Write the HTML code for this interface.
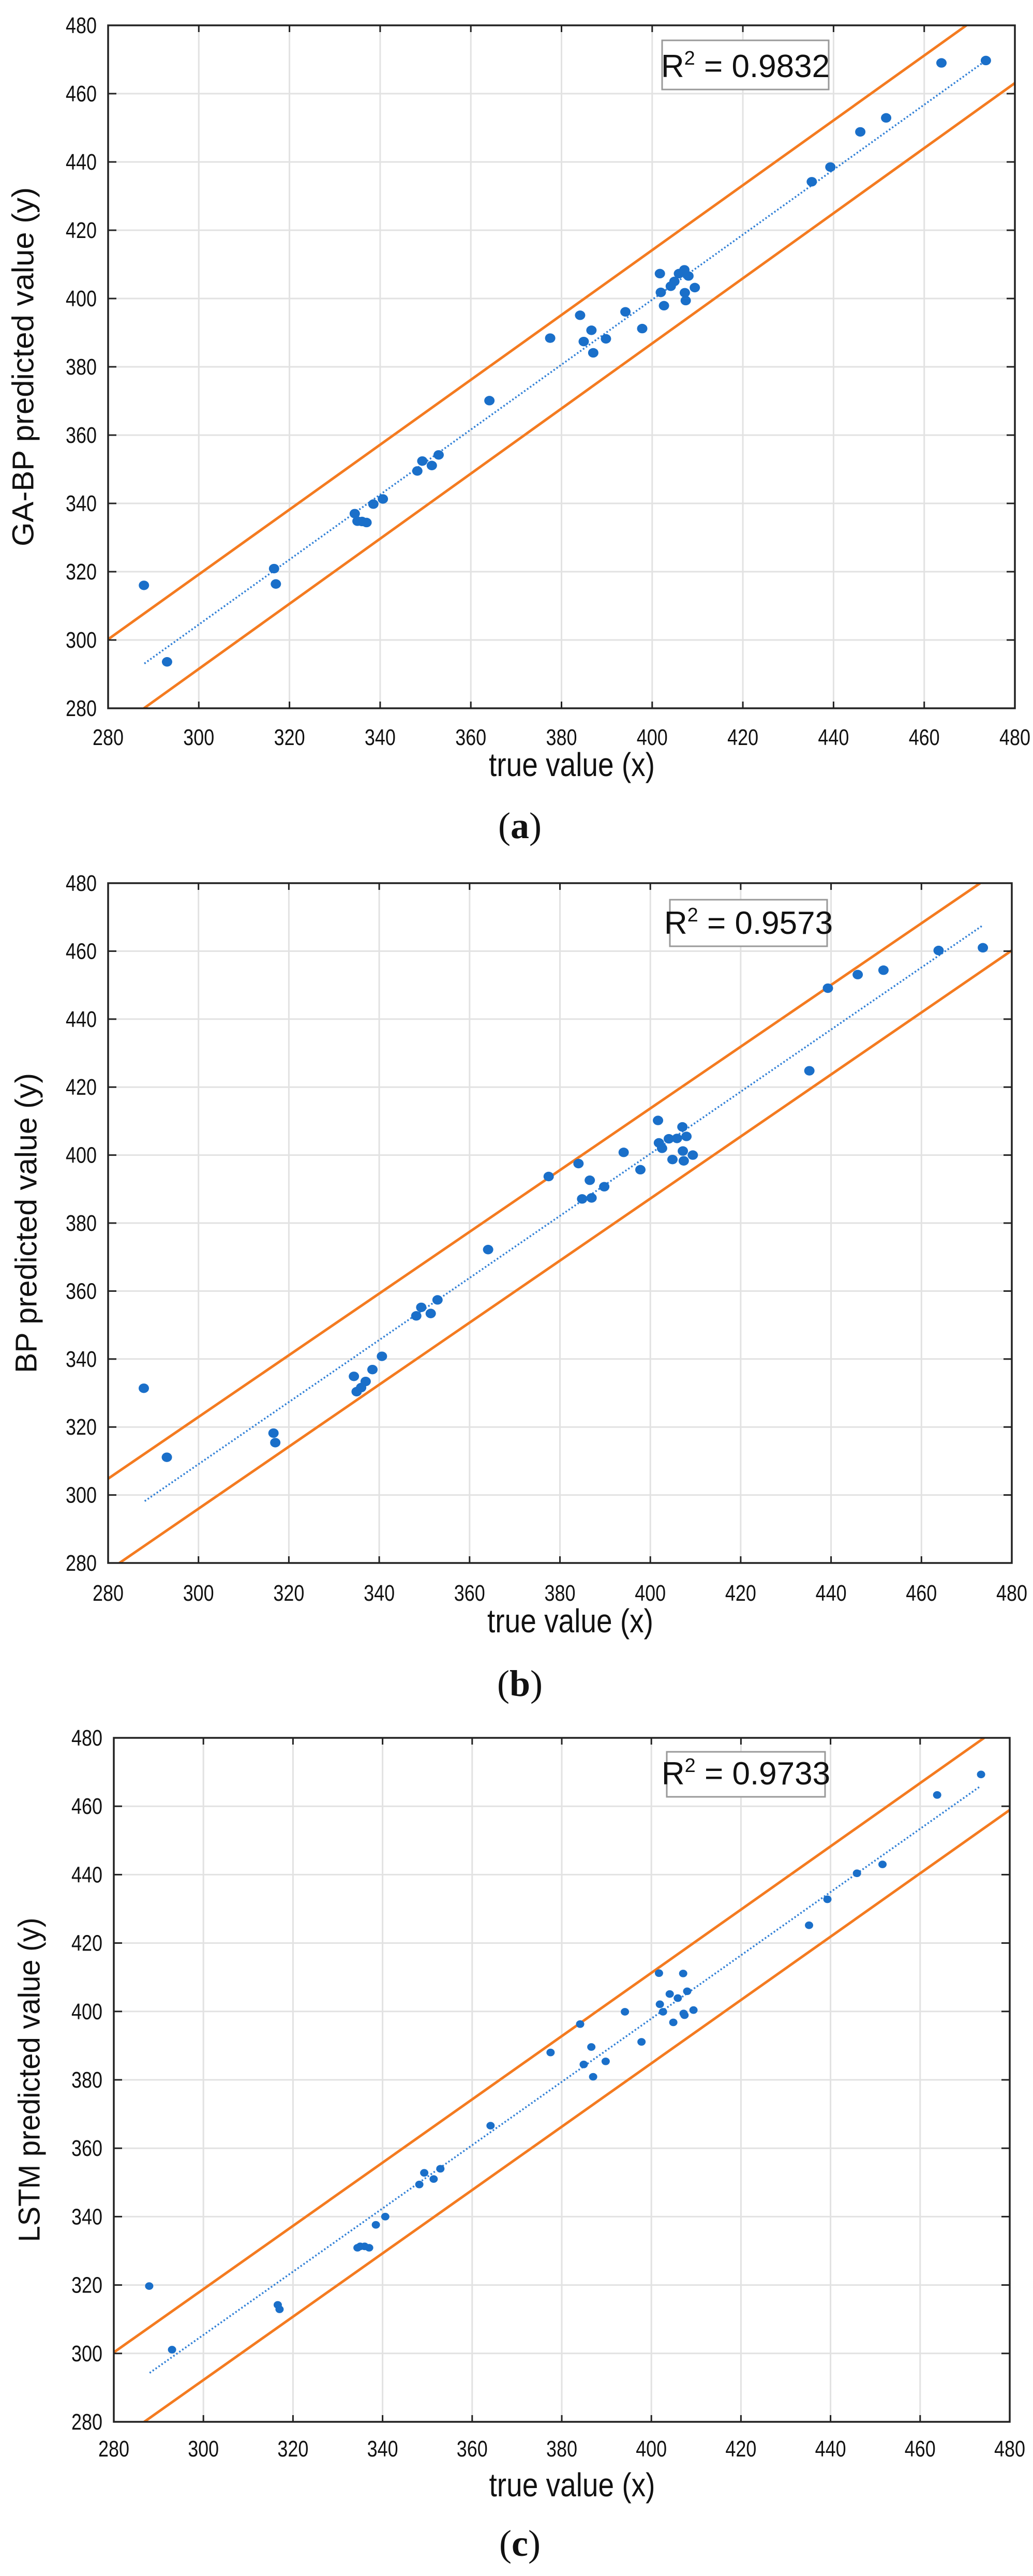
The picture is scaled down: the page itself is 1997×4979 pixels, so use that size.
<!DOCTYPE html>
<html><head><meta charset="utf-8"><style>
html,body{margin:0;padding:0;background:#fff}
svg{display:block}
.tick{font-family:"Liberation Sans Narrow","Liberation Sans",sans-serif;font-size:44px;fill:#111}
.ttl{font-family:"Liberation Sans Narrow","Liberation Sans",sans-serif;font-size:64px;fill:#111}
.ytl{font-family:"Liberation Sans",sans-serif;font-size:58px;fill:#111}
.cap{font-family:"Liberation Serif",serif;font-size:72px;fill:#111}
.r2{font-family:"Liberation Sans Narrow","Liberation Sans",sans-serif;font-size:62px;fill:#111}
</style></head><body>
<svg id="fig" width="1997" height="4979" viewBox="0 0 1997 4979" xmlns="http://www.w3.org/2000/svg"></svg>
<script>
const xTrue=[287.9,293.0,316.6,317.0,334.4,335.0,336.0,337.0,338.5,340.6,348.2,349.3,351.4,352.9,364.1,377.5,384.1,384.9,386.6,387.0,389.8,394.1,397.8,401.7,401.9,402.6,404.1,404.9,405.9,407.1,408.0,407.2,407.4,409.4,435.2,439.3,445.9,451.6,463.8,473.6];
const yGABP=[316.0,293.6,320.9,316.4,337.0,334.8,334.7,334.4,339.8,341.3,349.5,352.4,351.1,354.2,370.1,388.4,395.1,387.4,390.7,384.1,388.2,396.1,391.2,407.3,401.8,397.9,403.6,405.0,407.3,408.4,406.6,401.7,399.4,403.2,434.2,438.5,448.8,452.9,469.0,469.7];
const yBP=[331.4,311.1,318.2,315.4,334.9,330.4,331.6,333.4,336.9,340.8,352.7,355.2,353.4,357.4,372.2,393.7,397.5,387.1,392.6,387.4,390.7,400.8,395.7,410.2,403.6,402.0,404.8,398.7,404.9,408.3,405.5,401.2,398.3,400.0,424.8,449.1,453.1,454.4,460.2,461.0];
const yLSTM=[319.7,301.1,314.2,312.9,330.9,331.3,331.3,330.9,337.6,340.0,349.4,352.8,351.0,354.0,366.6,388.0,396.3,384.5,389.6,380.9,385.4,399.9,391.1,411.2,402.1,399.9,405.1,396.8,403.9,411.1,405.9,399.4,398.9,400.4,425.2,432.8,440.4,443.0,463.3,469.3];
const ticks=[280,300,320,340,360,380,400,420,440,460,480];
const r2Labels=["0.9832","0.9573","0.9733"];
const upperA=[280,300.2,469.3,480], lowerA=[287.9,280,480,463.1], trendA=[288,293.1,473.6,469.7];
const upperB=[280,304.8,473.0,480], lowerB=[282.5,280,480,460.2], trendB=[288.1,298.2,473.6,467.6];
const upperC=[280,300.3,474.3,480], lowerC=[286.8,280,480,458.9], trendC=[288.0,294.3,473.5,465.9];

const NS="http://www.w3.org/2000/svg";
const svg=document.getElementById('fig');
function mk(tag,attrs,parent){const e=document.createElementNS(NS,tag);for(const k in attrs)e.setAttribute(k,attrs[k]);(parent||svg).appendChild(e);return e;}

const charts=[
 {L:209,R:1962,T:49,B:1369,ys:yGABP,up:upperA,lo:lowerA,tr:trendA,ytitle:"GA-BP predicted value (y)",ylen:694,ytx:45,lab:1440,xt:1500,cap:"a",capy:1620,box:[1280,78,1602,173],rad:10,r2:r2Labels[0],name:"ga-bp"},
 {L:209,R:1956,T:1707,B:3021,ys:yBP,up:upperB,lo:lowerB,tr:trendB,ytitle:"BP predicted value (y)",ylen:580,ytx:51,lab:3094,xt:3155,cap:"b",capy:3278,box:[1295,1739,1599,1829],rad:10,r2:r2Labels[1],name:"bp"},
 {L:220,R:1952,T:3359,B:4681,ys:yLSTM,up:upperC,lo:lowerC,tr:trendC,ytitle:"LSTM predicted value (y)",ylen:627,ytx:57,lab:4748,xt:4825,cap:"c",capy:4940,box:[1289,3386,1595,3473],rad:8,r2:r2Labels[2],name:"lstm"}
];

charts.forEach(c=>{
  const g=mk('g',{});
  
  
  const sx=v=>c.L+(v-280)/200*(c.R-c.L);
  const sy=v=>c.B-(v-280)/200*(c.B-c.T);
  ticks.forEach(t=>{
    if(t>280&&t<480){
      const gl=mk('line',{x1:sx(t),x2:sx(t),y1:c.T,y2:c.B,stroke:'#e2e2e2','stroke-width':3},g);
      
      
      const gh=mk('line',{x1:c.L,x2:c.R,y1:sy(t),y2:sy(t),stroke:'#e2e2e2','stroke-width':3},g);
      
      
    }
  });
  const cid='clip-'+c.name;
  const cp=mk('clipPath',{id:cid},g);
  mk('rect',{x:c.L,y:c.T,width:c.R-c.L,height:c.B-c.T},cp);
  const pg=mk('g',{'clip-path':'url(#'+cid+')'},g);
  [[c.up,'upper-bound-line'],[c.lo,'lower-bound-line']].forEach(([a,n])=>{
    const l=mk('line',{x1:sx(a[0]),y1:sy(a[1]),x2:sx(a[2]),y2:sy(a[3]),stroke:'#f47b20','stroke-width':5},pg);
    
    
  });
  const tl=mk('line',{x1:sx(c.tr[0]),y1:sy(c.tr[1]),x2:sx(c.tr[2]),y2:sy(c.tr[3]),stroke:'#2f7fd6','stroke-width':3.5,'stroke-dasharray':'3 4'},pg);
  
  
  xTrue.forEach((xv,i)=>{
    const p=mk('ellipse',{cx:sx(xv),cy:sy(c.ys[i]),rx:c.rad,ry:c.rad*0.92,fill:'#1a6fc9'},g);
    
    
  });
  const fr=mk('rect',{x:c.L,y:c.T,width:c.R-c.L,height:c.B-c.T,fill:'none',stroke:'#222','stroke-width':3.5},g);
  
  
  ticks.forEach(t=>{
    if(t>280&&t<480){
      mk('line',{x1:sx(t),x2:sx(t),y1:c.B,y2:c.B-13,stroke:'#222','stroke-width':3},g);
      mk('line',{x1:sx(t),x2:sx(t),y1:c.T,y2:c.T+13,stroke:'#222','stroke-width':3},g);
      mk('line',{x1:c.L,x2:c.L+16,y1:sy(t),y2:sy(t),stroke:'#222','stroke-width':3},g);
      mk('line',{x1:c.R,x2:c.R-16,y1:sy(t),y2:sy(t),stroke:'#222','stroke-width':3},g);
    }
    const xl=mk('text',{x:sx(t),y:c.lab,'text-anchor':'middle',class:'tick',textLength:60,lengthAdjust:'spacingAndGlyphs'},g);
    xl.textContent=t;
    
    
    const yl=mk('text',{x:c.L-22,y:sy(t)+15,'text-anchor':'end',class:'tick',textLength:60,lengthAdjust:'spacingAndGlyphs'},g);
    yl.textContent=t;
    
    
  });
  const b=c.box;
  const br=mk('rect',{x:b[0],y:b[1],width:b[2]-b[0],height:b[3]-b[1],fill:'#fff',stroke:'#999','stroke-width':3},g);
  
  
  const rt=mk('text',{x:(b[0]+b[2])/2,y:b[3]-24,'text-anchor':'middle',class:'r2'},g);
  rt.innerHTML='R<tspan dy="-24" font-size="38">2</tspan><tspan dy="24"> = '+c.r2+'</tspan>';
  
  
  const xt=mk('text',{x:(c.L+c.R)/2+20,y:c.xt,'text-anchor':'middle',class:'ttl',textLength:321,lengthAdjust:'spacingAndGlyphs'},g);
  xt.textContent='true value (x)';
  
  
  const cy=(c.T+c.B)/2;
  const yt=mk('text',{x:c.ytx,y:cy,'text-anchor':'middle',class:'ytl',transform:'rotate(-90 '+c.ytx+' '+cy+')','dominant-baseline':'central',textLength:c.ylen,lengthAdjust:'spacingAndGlyphs'},g);
  yt.textContent=c.ytitle;
  
  
  const cap=mk('text',{x:1005,y:c.capy,'text-anchor':'middle',class:'cap'},g);
  cap.innerHTML='(<tspan font-weight="bold">'+c.cap+'</tspan>)';
  
  
});
</script>
</body></html>
